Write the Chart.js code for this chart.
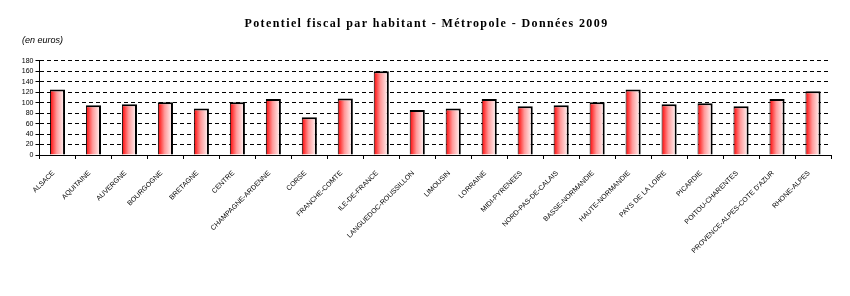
<!DOCTYPE html>
<html>
<head>
<meta charset="utf-8">
<script src="https://cdn.jsdelivr.net/npm/chart.js@4"></script>
<style>
  html,body{margin:0;padding:0;background:#fff}
  canvas{display:block}
</style>
</head>
<body>
<canvas id="chart" width="850" height="296"></canvas>
<script>
// regions in the order they appear on the x axis
const regions = ['ALSACE','AQUITAINE','AUVERGNE','BOURGOGNE','BRETAGNE','CENTRE','CHAMPAGNE-ARDENNE','CORSE',
  'FRANCHE-COMTE','ILE-DE-FRANCE','LANGUEDOC-ROUSSILLON','LIMOUSIN','LORRAINE','MIDI-PYRENEES',
  'NORD-PAS-DE-CALAIS','BASSE-NORMANDIE','HAUTE-NORMANDIE','PAYS DE LA LOIRE','PICARDIE',
  'POITOU-CHARENTES',"PROVENCE-ALPES-COTE D'AZUR",'RHONE-ALPES'];
// potentiel fiscal par habitant, euros
const potentiel = [125,95,97,101,89,101,107,72,108,160,86,89,107,93,95,101,125,97,99,93,107,122];
const yTicks = [0,20,40,60,80,100,120,140,160,180];
const chartTitle = 'Potentiel fiscal par habitant - Métropole - Données 2009';
const unitLabel = '(en euros)';

const BAR_PCT = 0.42;

// red -> white horizontal fade, one gradient per bar
const barFill = (ctx) => {
  const c = ctx.chart, xs = c.scales.x;
  if (!xs || ctx.dataIndex == null) return '#ff8080';
  const w = xs.width / regions.length * BAR_PCT;
  const cx = xs.getPixelForValue(ctx.dataIndex);
  if (!isFinite(w) || !isFinite(cx) || w <= 0) return '#ff8080';
  const g = c.ctx.createLinearGradient(cx - w/2, 0, cx + w/2, 0);
  g.addColorStop(0, '#ff0000');
  g.addColorStop(0.45, '#ff9a9a');
  g.addColorStop(1, '#ffffff');
  return g;
};

// the old excel title is spaced out, widen the letters a bit
const spacedTitle = {
  id: 'spacedTitle',
  afterInit(chart) {
    const tb = chart.titleBlock;
    if (!tb) return;
    const orig = tb.draw.bind(tb);
    tb.draw = function(area) {
      const ctx = this.ctx;
      ctx.save();
      ctx.letterSpacing = '1.4px';
      orig(area);
      ctx.restore();
    };
  }
};

const chart = new Chart(document.getElementById('chart'), {
  type: 'bar',
  data: {
    labels: regions,
    datasets: [{
      data: potentiel,
      backgroundColor: barFill,
      borderColor: '#000',
      borderWidth: {top:2, right:2, left:1, bottom:0},
      borderSkipped: false,
      barPercentage: BAR_PCT,
      categoryPercentage: 1
    }]
  },
  plugins: [spacedTitle],
  options: {
    responsive: false,
    animation: false,
    devicePixelRatio: 1,
    layout: {padding: {left:22, right:19, top:0, bottom:0}},
    plugins: {
      legend: {display:false},
      tooltip: {enabled:false},
      title: {
        display: true, text: chartTitle, color: '#000',
        font: {family:'"Liberation Serif", "Times New Roman", serif', size:12, weight:'bold'},
        padding: {top:17, bottom:4}
      },
      subtitle: {
        display: true, text: unitLabel, align: 'start', color: '#000',
        font: {family:'"Liberation Sans", Arial, sans-serif', size:9, style:'italic'},
        padding: {top:0, bottom:14.6}
      }
    },
    scales: {
      x: {
        afterFit: s => { s.height = 141; },
        grid: {display:true, drawOnChartArea:false, drawTicks:true, tickLength:4, color:'#000', offset:true},
        border: {display:true, color:'#000', width:1},
        ticks: {
          autoSkip:false, minRotation:45, maxRotation:45, color:'#000', padding:10, labelOffset:-4,
          font: {family:'"Liberation Sans", Arial, sans-serif', size:7}
        }
      },
      y: {
        min: 0, max: 180,
        afterFit: s => { s.width = 17.5; },
        afterBuildTicks: s => { s.ticks = yTicks.map(v => ({value:v})); },
        grid: {color:'#000', lineWidth:1, tickLength:4, drawTicks:true},
        border: {display:true, color:'#000', width:1, dash:[4,3]},
        ticks: {
          autoSkip:false, stepSize:20, color:'#000', padding:2,
          font: {family:'"Liberation Sans", Arial, sans-serif', size:7}
        }
      }
    }
  }
});
chart.update();
</script>
</body>
</html>
